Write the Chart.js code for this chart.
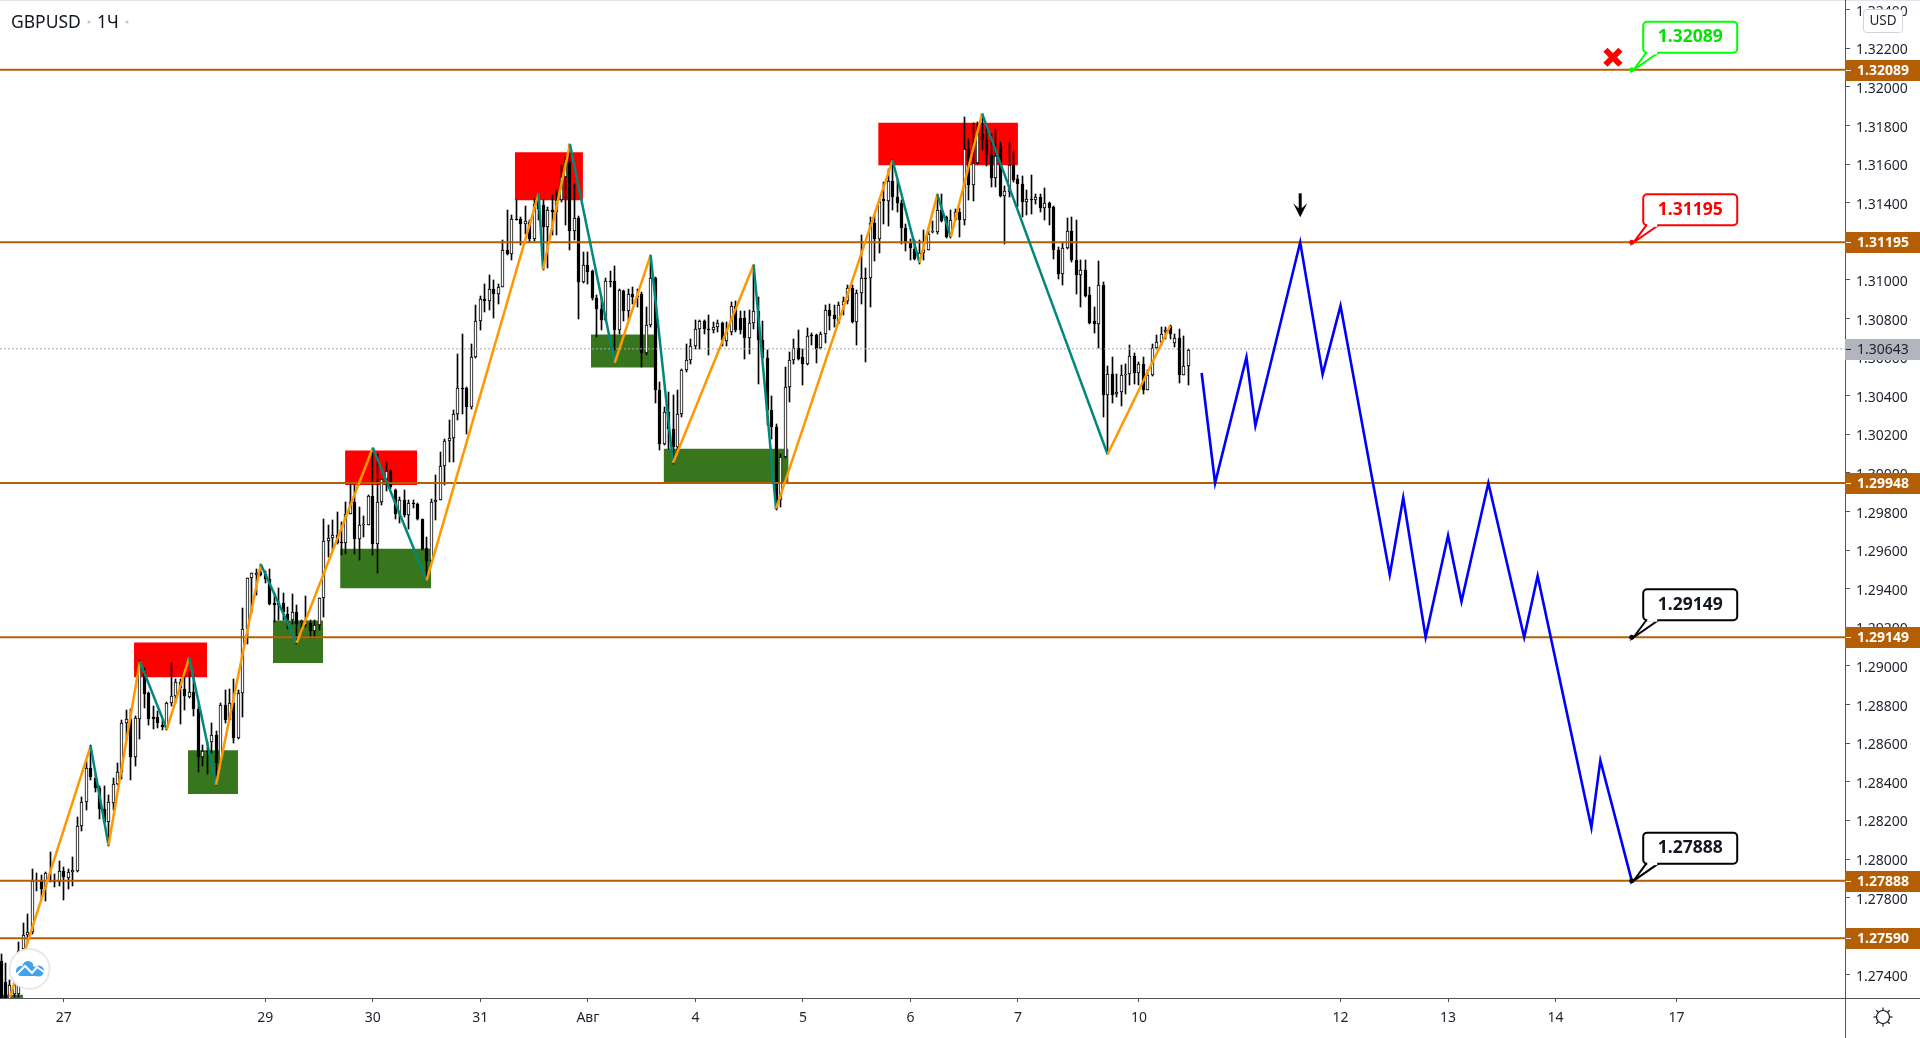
<!DOCTYPE html>
<html>
<head>
<meta charset="utf-8">
<title>GBPUSD</title>
<script src="https://cdn.jsdelivr.net/npm/chart.js@4"></script>
<style>
  html, body { margin: 0; padding: 0; background: #fff; overflow: hidden; }
  canvas { display: block; }
</style>
</head>
<body>
<canvas id="myChart" width="1920" height="1038"></canvas>
<script>
// hourly candles, oldest first
const opens = [
  1.27471,1.27365,1.27260,1.27303,1.27303,1.27533,1.27604,1.27622,1.27888,1.27892,
  1.27853,1.27892,1.27884,1.27879,1.27938,1.27902,1.27931,1.27938,1.28172,1.28296,
  1.28470,1.28420,1.28370,1.28257,1.28190,1.28292,1.28388,1.28452,1.28707,1.28727,
  1.28530,1.28727,1.28970,1.28860,1.28736,1.28736,1.28695,1.28677,1.28810,1.28842,
  1.28917,1.28881,1.28837,1.28863,1.28775,1.28530,1.28562,1.28606,1.28642,1.28500,
  1.28796,1.28722,1.28810,1.28629,1.28858,1.29192,1.29458,1.29470,1.29488,1.29476,
  1.29452,1.29325,1.29325,1.29325,1.29268,1.29236,1.29280,1.29222,1.29215,1.29222,
  1.29179,1.29215,1.29351,1.29648,1.29665,1.29680,1.29642,1.29637,1.29789,1.29850,
  1.29658,1.29732,1.29732,1.29881,1.29634,1.29850,1.29967,1.30010,1.29914,1.29789,
  1.29862,1.29784,1.29846,1.29841,1.29763,1.29613,1.29544,1.29850,1.29862,1.30036,
  1.30164,1.30183,1.30307,1.30442,1.30442,1.30342,1.30601,1.30787,1.30903,1.30891,
  1.30955,1.30929,1.30964,1.31157,1.31136,1.31316,1.31316,1.31292,1.31300,1.31214,
  1.31421,1.31390,1.31274,1.31364,1.31352,1.31413,1.31534,1.31611,1.31254,1.31323,
  1.30989,1.31079,1.31046,1.30908,1.30851,1.30791,1.30995,1.30995,1.30739,1.30943,
  1.30839,1.30929,1.30912,1.30925,1.30622,1.30765,1.31012,1.30432,1.30148,1.30316,
  1.30230,1.30135,1.30307,1.30532,1.30584,1.30658,1.30748,1.30786,1.30748,1.30739,
  1.30756,1.30779,1.30684,1.30730,1.30865,1.30805,1.30805,1.30701,1.30779,1.30837,
  1.30687,1.30597,1.30325,1.30238,1.29858,1.30083,1.30445,1.30584,1.30649,1.30601,
  1.30566,1.30713,1.30713,1.30648,1.30718,1.30846,1.30817,1.30777,1.30872,1.30891,
  1.30960,1.30782,1.30934,1.31012,1.31012,1.31295,1.31211,1.31421,1.31409,1.31511,
  1.31430,1.31399,1.31269,1.31192,1.31162,1.31110,1.31140,1.31157,1.31247,1.31247,
  1.31361,1.31326,1.31223,1.31312,1.31352,1.31309,1.31680,1.31490,1.31606,1.31758,
  1.31727,1.31646,1.31528,1.31692,1.31435,1.31456,1.31594,1.31521,1.31499,1.31404,
  1.31421,1.31416,1.31430,1.31373,1.31401,1.31378,1.31157,1.31029,1.31167,1.31252,
  1.31105,1.31024,1.31050,1.30920,1.30786,1.30774,1.30972,1.30402,1.30515,1.30411,
  1.30420,1.30509,1.30515,1.30604,1.30518,1.30566,1.30432,1.30506,1.30649,1.30679,
  1.30730,1.30760,1.30675,1.30701,1.30509,1.30553
];
const highs = [
  1.27507,1.27462,1.27374,1.27391,1.27569,1.27666,1.27714,1.27950,1.27927,1.27915,
  1.27932,1.28035,1.27923,1.27989,1.27959,1.27950,1.28012,1.28216,1.28322,1.28509,
  1.28589,1.28438,1.28376,1.28376,1.28331,1.28420,1.28495,1.28722,1.28771,1.28775,
  1.28739,1.29032,1.28988,1.28863,1.28793,1.28766,1.28722,1.28816,1.29014,1.28934,
  1.28934,1.28970,1.28970,1.28961,1.28810,1.28589,1.28606,1.28707,1.28665,1.28810,
  1.28878,1.28881,1.28934,1.28878,1.29303,1.29458,1.29484,1.29502,1.29528,1.29493,
  1.29502,1.29378,1.29404,1.29378,1.29307,1.29374,1.29316,1.29236,1.29363,1.29236,
  1.29236,1.29351,1.29764,1.29729,1.29755,1.29798,1.29746,1.29850,1.29945,1.29936,
  1.29824,1.29775,1.29884,1.30131,1.30100,1.29970,1.30057,1.30014,1.29919,1.29876,
  1.29914,1.29858,1.29858,1.29843,1.29763,1.29668,1.29867,1.29988,1.30109,1.30178,
  1.30273,1.30325,1.30618,1.30722,1.30445,1.30670,1.30869,1.30915,1.30981,1.31024,
  1.31002,1.30981,1.31205,1.31364,1.31335,1.31416,1.31326,1.31382,1.31309,1.31421,
  1.31447,1.31413,1.31378,1.31439,1.31464,1.31594,1.31637,1.31703,1.31499,1.31330,
  1.31145,1.31145,1.31050,1.30920,1.30912,1.31012,1.31046,1.31071,1.30955,1.30946,
  1.30955,1.30964,1.30955,1.30938,1.30860,1.31129,1.31016,1.30471,1.30342,1.30420,
  1.30402,1.30428,1.30541,1.30670,1.30696,1.30794,1.30794,1.30791,1.30817,1.30782,
  1.30791,1.30782,1.30782,1.30886,1.30889,1.30839,1.30839,1.30843,1.31079,1.30912,
  1.30786,1.30635,1.30397,1.30256,1.30100,1.30549,1.30627,1.30696,1.30739,1.30644,
  1.30753,1.30725,1.30722,1.30730,1.30869,1.30874,1.30869,1.30886,1.30912,1.30972,
  1.30972,1.30946,1.31231,1.31064,1.31326,1.31335,1.31421,1.31508,1.31577,1.31620,
  1.31516,1.31413,1.31292,1.31214,1.31205,1.31209,1.31257,1.31257,1.31305,1.31444,
  1.31444,1.31330,1.31361,1.31369,1.31375,1.31844,1.31732,1.31813,1.31818,1.31862,
  1.31793,1.31758,1.31784,1.31715,1.31485,1.31715,1.31663,1.31542,1.31537,1.31464,
  1.31542,1.31444,1.31447,1.31478,1.31404,1.31382,1.31171,1.31197,1.31323,1.31326,
  1.31309,1.31105,1.31102,1.30964,1.30860,1.31097,1.30989,1.30553,1.30601,1.30515,
  1.30558,1.30566,1.30661,1.30623,1.30575,1.30601,1.30532,1.30670,1.30713,1.30756,
  1.30756,1.30765,1.30722,1.30748,1.30708,1.30644
];
const lows = [
  1.27200,1.27200,1.27200,1.27285,1.27285,1.27524,1.27569,1.27613,1.27835,1.27799,
  1.27782,1.27880,1.27853,1.27861,1.27790,1.27844,1.27861,1.27932,1.28145,1.28252,
  1.28411,1.28349,1.28207,1.28185,1.28069,1.28252,1.28385,1.28417,1.28615,1.28411,
  1.28482,1.28624,1.28784,1.28695,1.28672,1.28677,1.28668,1.28668,1.28793,1.28810,
  1.28700,1.28771,1.28832,1.28739,1.28452,1.28482,1.28438,1.28548,1.28385,1.28482,
  1.28704,1.28722,1.28601,1.28624,1.28736,1.29112,1.29272,1.29369,1.29467,1.29431,
  1.29316,1.29227,1.29236,1.29236,1.29192,1.29218,1.29112,1.29174,1.29200,1.29147,
  1.29147,1.29186,1.29254,1.29565,1.29599,1.29630,1.29573,1.29582,1.29786,1.29582,
  1.29547,1.29668,1.29729,1.29573,1.29482,1.29832,1.29907,1.29919,1.29763,1.29741,
  1.29772,1.29711,1.29820,1.29755,1.29599,1.29452,1.29540,1.29755,1.29858,1.29936,
  1.30057,1.30057,1.30273,1.30307,1.30204,1.30333,1.30597,1.30743,1.30834,1.30843,
  1.30805,1.30877,1.30964,1.31128,1.31102,1.31309,1.31179,1.31240,1.31197,1.31202,
  1.31309,1.31050,1.31062,1.31231,1.31231,1.31405,1.31283,1.31154,1.31205,1.30800,
  1.30984,1.30981,1.30894,1.30705,1.30739,1.30785,1.30964,1.30635,1.30722,1.30787,
  1.30791,1.30877,1.30860,1.30549,1.30613,1.30756,1.30363,1.30117,1.30143,1.30126,
  1.30048,1.30109,1.30290,1.30523,1.30566,1.30644,1.30644,1.30718,1.30610,1.30727,
  1.30730,1.30656,1.30656,1.30713,1.30730,1.30722,1.30592,1.30618,1.30748,1.30463,
  1.30592,1.30247,1.30178,1.29810,1.29824,1.30078,1.30368,1.30566,1.30584,1.30454,
  1.30558,1.30661,1.30570,1.30644,1.30673,1.30739,1.30756,1.30774,1.30817,1.30877,
  1.30779,1.30661,1.30877,1.30575,1.30860,1.31098,1.31140,1.31292,1.31278,1.31361,
  1.31352,1.31188,1.31150,1.31105,1.31102,1.31084,1.31102,1.31154,1.31243,1.31240,
  1.31300,1.31219,1.31219,1.31309,1.31223,1.31283,1.31413,1.31409,1.31599,1.31672,
  1.31589,1.31482,1.31482,1.31430,1.31185,1.31430,1.31508,1.31378,1.31326,1.31335,
  1.31344,1.31395,1.31352,1.31309,1.31283,1.31110,1.31007,1.30972,1.31162,1.31093,
  1.30926,1.30860,1.30912,1.30770,1.30725,1.30649,1.30290,1.30100,1.30363,1.30394,
  1.30345,1.30411,1.30454,1.30463,1.30454,1.30411,1.30428,1.30501,1.30644,1.30661,
  1.30696,1.30696,1.30653,1.30466,1.30506,1.30454
];
const closes = [
  1.27250,1.27260,1.27347,1.27356,1.27524,1.27608,1.27622,1.27888,1.27892,1.27847,
  1.27927,1.27884,1.27879,1.27938,1.27906,1.27931,1.27945,1.28172,1.28296,1.28470,
  1.28424,1.28370,1.28257,1.28190,1.28296,1.28388,1.28452,1.28707,1.28727,1.28530,
  1.28730,1.29005,1.28855,1.28727,1.28727,1.28707,1.28686,1.28810,1.28842,1.28917,
  1.28885,1.28842,1.28863,1.28775,1.28530,1.28562,1.28553,1.28642,1.28500,1.28796,
  1.28722,1.28810,1.28629,1.28858,1.29192,1.29458,1.29481,1.29481,1.29470,1.29449,
  1.29321,1.29316,1.29316,1.29280,1.29236,1.29280,1.29218,1.29232,1.29232,1.29179,
  1.29215,1.29351,1.29647,1.29665,1.29680,1.29637,1.29637,1.29789,1.29850,1.29658,
  1.29732,1.29738,1.29881,1.29634,1.29850,1.29967,1.30010,1.29927,1.29789,1.29862,
  1.29784,1.29846,1.29841,1.29763,1.29608,1.29544,1.29850,1.29862,1.30036,1.30164,
  1.30183,1.30307,1.30442,1.30437,1.30342,1.30601,1.30787,1.30903,1.30891,1.30955,
  1.30929,1.30964,1.31157,1.31136,1.31318,1.31312,1.31292,1.31306,1.31214,1.31395,
  1.31369,1.31274,1.31364,1.31352,1.31413,1.31534,1.31611,1.31254,1.31323,1.30989,
  1.31079,1.31041,1.30907,1.30851,1.30791,1.30995,1.30990,1.30739,1.30946,1.30839,
  1.30929,1.30912,1.30915,1.30622,1.30765,1.31012,1.30432,1.30148,1.30316,1.30230,
  1.30135,1.30307,1.30532,1.30584,1.30658,1.30748,1.30786,1.30748,1.30743,1.30756,
  1.30779,1.30687,1.30730,1.30865,1.30739,1.30739,1.30701,1.30779,1.30837,1.30687,
  1.30597,1.30325,1.30238,1.29815,1.30083,1.30445,1.30584,1.30649,1.30592,1.30566,
  1.30708,1.30708,1.30644,1.30718,1.30846,1.30812,1.30800,1.30872,1.30891,1.30960,
  1.30782,1.30934,1.31012,1.31010,1.31295,1.31211,1.31404,1.31409,1.31511,1.31430,
  1.31399,1.31269,1.31192,1.31166,1.31110,1.31140,1.31157,1.31240,1.31252,1.31361,
  1.31305,1.31223,1.31312,1.31352,1.31309,1.31680,1.31490,1.31606,1.31758,1.31723,
  1.31646,1.31528,1.31641,1.31435,1.31459,1.31594,1.31516,1.31496,1.31404,1.31421,
  1.31418,1.31430,1.31373,1.31401,1.31375,1.31154,1.31029,1.31167,1.31252,1.31102,
  1.31024,1.31050,1.30917,1.30779,1.30774,1.30972,1.30402,1.30515,1.30402,1.30422,
  1.30509,1.30515,1.30604,1.30518,1.30566,1.30428,1.30506,1.30649,1.30679,1.30722,
  1.30739,1.30722,1.30701,1.30509,1.30553,1.30635
];

// zigzag pivots (bar number, price)
const zigBars = [2,20,24,31,37,42,48,58,66,83,95,120,121,127,137,145,150,168,173,199,205,209,212,219,247,261];
const zigPrices = [1.27285,1.28585,1.28071,1.29023,1.28672,1.29044,1.28385,1.29527,1.29119,1.30131,1.29444,1.31447,1.31055,1.31703,1.30571,1.31129,1.30052,1.31079,1.29815,1.31620,1.31090,1.31442,1.31223,1.31862,1.30097,1.30763];

// hand drawn forecast
const forecastBars = [268,271,278,280,290,295,299,310,313,318,323,326,332,340,343,355,357,364];
const forecastPrices = [1.30518,1.29948,1.30600,1.30245,1.31195,1.30511,1.30866,1.29473,1.29872,1.29149,1.29676,1.29334,1.29948,1.29149,1.29467,1.28163,1.28511,1.27888];

// supply / demand boxes
const zoneLeft = [-1,29.7,41.7,60.7,75.7,76.8,114.7,131.7,147.9,195.8];
const zoneRight = [4.9,46,52.9,71.9,96,92.9,129.9,146,175.8,227];
const zoneHigh = [1.27297,1.29122,1.28564,1.29236,1.29608,1.30117,1.31661,1.30718,1.30126,1.31815];
const zoneLow = [1.27200,1.28942,1.28337,1.29016,1.29403,1.29938,1.31413,1.30547,1.29948,1.31594];
const zoneKinds = ["demand","supply","demand","demand","demand","supply","supply","demand","demand","supply"];

// horizontal levels
const levels = [1.32089,1.31195,1.29948,1.29149,1.27888,1.27590];
const lastPrice = 1.30643;
const calloutPrices = [1.32089,1.31195,1.29149,1.27888];
const calloutColors = ["#00ff00","#ff0000","#000000","#000000"];
const calloutTextColors = ["#00e600","#ff0000","#131722","#131722"];

// axes
const priceTicks = [1.274,1.276,1.278,1.28,1.282,1.284,1.286,1.288,1.29,1.292,1.294,1.296,1.298,1.30,1.302,1.304,1.306,1.308,1.31,1.312,1.314,1.316,1.318,1.32,1.322,1.324];
const timeTickBars = [14,59,83,107,131,155,179,203,227,254,299,323,347,374];
const timeTickLabels = ["27","29","30","31","Авг","4","5","6","7","10","12","13","14","17"];

const symbolName = "GBPUSD";
const intervalName = "1Ч";
const currencyName = "USD";

const BAR_WIDTH = 4.48;
const AXIS_X = 1845;
const AXIS_Y = 998;
const BROWN = "#b45f06";
const ORANGE = "#ff9800";
const TEAL = "#00897b";
const ZONE_COLORS = { supply: "#ff0000", demand: "#38761d" };
const AXIS_COLOR = "#50535e";
const TEXT_COLOR = "#1e222d";
const FONT = '"Noto Sans", sans-serif';

const xMin = (0 - 1) / BAR_WIDTH;
const xMax = (AXIS_X - 1) / BAR_WIDTH;

function start() {
  const ctx = document.getElementById("myChart").getContext("2d");
  new Chart(ctx, {
    data: { datasets: buildDatasets() },
    options: {
      responsive: false,
      devicePixelRatio: 1,
      animation: false,
      events: [],
      layout: { padding: { top: 2, left: 0, right: 0, bottom: 0 } },
      scales: {
        x: {
          type: "linear",
          min: xMin,
          max: xMax,
          offset: false,
          afterFit: (scale) => {
            scale.height = 1038 - AXIS_Y;
            scale.paddingLeft = 0;
            scale.paddingRight = 0;
          },
          afterBuildTicks: (scale) => {
            scale.ticks = timeTickBars.map((v) => ({ value: v }));
          },
          grid: { offset: false, drawOnChartArea: false, drawTicks: true, tickLength: 4, color: AXIS_COLOR },
          border: { display: false },
          ticks: {
            autoSkip: false,
            maxRotation: 0,
            padding: 8,
            color: TEXT_COLOR,
            font: { family: FONT, size: 14 },
            callback: (value) => timeTickLabels[timeTickBars.indexOf(value)],
          },
        },
        y: {
          type: "linear",
          position: "right",
          min: 1.2728,
          max: 1.3244,
          afterFit: (scale) => {
            scale.width = 1920 - AXIS_X;
            // the top tick label must not push the plot area down
            scale.paddingTop = 0;
            scale.paddingBottom = 0;
          },
          afterBuildTicks: (scale) => {
            scale.ticks = priceTicks.map((v) => ({ value: v }));
          },
          grid: { drawOnChartArea: false, drawTicks: true, tickLength: 5, color: AXIS_COLOR },
          border: { display: false },
          ticks: {
            autoSkip: false,
            padding: 6,
            color: TEXT_COLOR,
            font: { family: FONT, size: 14 },
            callback: (value) => value.toFixed(5),
          },
        },
      },
      plugins: {
        legend: { display: false },
        title: { display: false },
        tooltip: { enabled: false },
      },
    },
    plugins: [snapCandles, nudgePriceLabels, overlay],
  });
}

function buildDatasets() {
  const datasets = [];
  // boxes sit behind everything
  zoneLeft.forEach((left, i) => {
    datasets.push({
      type: "line",
      order: 50,
      data: [{ x: left, y: zoneHigh[i] }, { x: zoneRight[i], y: zoneHigh[i] }],
      borderWidth: 0,
      pointRadius: 0,
      backgroundColor: ZONE_COLORS[zoneKinds[i]],
      fill: { value: zoneLow[i] },
    });
  });
  // wicks
  datasets.push({
    type: "bar",
    order: 40,
    grouped: false,
    barThickness: 1,
    maxBarThickness: 1,
    backgroundColor: "#000",
    borderWidth: 0,
    data: opens.map((o, i) => ({ x: i, y: [lows[i], highs[i]] })),
  });
  // bodies
  datasets.push({
    type: "bar",
    order: 30,
    grouped: false,
    barThickness: 3,
    maxBarThickness: 3,
    borderWidth: 1,
    borderSkipped: false,
    borderColor: "#000",
    backgroundColor: (c) => (closes[c.dataIndex] >= opens[c.dataIndex] ? "#fff" : "#000"),
    data: opens.map((o, i) => ({ x: i, y: [o, closes[i]] })),
  });
  // last price
  datasets.push({
    type: "line",
    order: 25,
    data: [{ x: xMin, y: lastPrice }, { x: xMax, y: lastPrice }],
    borderColor: "#a3a6af",
    borderWidth: 1,
    borderDash: [2, 2],
    pointRadius: 0,
  });
  levels.forEach((level) => {
    datasets.push({
      type: "line",
      order: 20,
      data: [{ x: xMin, y: level }, { x: xMax, y: level }],
      borderColor: BROWN,
      borderWidth: 2,
      pointRadius: 0,
    });
  });
  datasets.push({
    type: "line",
    order: 10,
    data: zigBars.map((b, i) => ({ x: b, y: zigPrices[i] })),
    borderWidth: 2.5,
    borderColor: ORANGE,
    borderJoinStyle: "round",
    pointRadius: 0,
    segment: {
      borderColor: (c) => (c.p1.parsed.y > c.p0.parsed.y ? ORANGE : TEAL),
    },
  });
  datasets.push({
    type: "line",
    order: 10,
    data: forecastBars.map((b, i) => ({ x: b, y: forecastPrices[i] })),
    borderWidth: 2.6,
    borderColor: "#0000ff",
    pointRadius: 0,
  });
  return datasets;
}

// keep candles on whole pixels so they stay crisp like the original
const snapCandles = {
  id: "snapCandles",
  afterDatasetsUpdate(chart) {
    chart.getSortedVisibleDatasetMetas().forEach((meta) => {
      if (meta.type !== "bar") return;
      meta.data.forEach((el) => {
        el.x = Math.floor(el.x) + 0.5;
        el.y = Math.round(el.y);
        el.base = Math.round(el.base);
        if (el.y === el.base) el.base = el.y + 1;
      });
    });
  },
};

// price labels sit a little below their tick in the original
const nudgePriceLabels = {
  id: "nudgePriceLabels",
  afterUpdate(chart) {
    const scale = chart.scales.y;
    scale.getLabelItems(chart.chartArea).forEach((item) => {
      item.textOffset += 2;
    });
  },
};

const overlay = {
  id: "overlay",
  afterDraw(chart) {
    const ctx = chart.ctx;
    const yScale = chart.scales.y;
    const xScale = chart.scales.x;
    ctx.save();
    // frame
    ctx.fillStyle = "#e0e3eb";
    ctx.fillRect(0, 0, 1920, 1);
    ctx.fillStyle = AXIS_COLOR;
    ctx.fillRect(AXIS_X, 0, 1, 1038);
    ctx.fillRect(0, AXIS_Y, 1920, 1);

    // axis tags
    priceTag(ctx, yScale.getPixelForValue(lastPrice), lastPrice, "#b2b5be", TEXT_COLOR, "normal");
    levels.forEach((level) => {
      priceTag(ctx, yScale.getPixelForValue(level), level, BROWN, "#ffffff", "bold");
    });

    // currency box
    ctx.fillStyle = "#ffffff";
    ctx.strokeStyle = "#d1d4dc";
    ctx.lineWidth = 1;
    ctx.beginPath();
    ctx.roundRect(1863.5, 9.5, 39, 23, 3);
    ctx.fill();
    ctx.stroke();
    ctx.fillStyle = TEXT_COLOR;
    ctx.font = "13.5px " + FONT;
    ctx.textAlign = "center";
    ctx.textBaseline = "middle";
    ctx.fillText(currencyName, 1883, 21);

    // title
    ctx.textAlign = "left";
    ctx.fillStyle = "#131722";
    ctx.font = "17.5px " + FONT;
    ctx.fillText(symbolName, 11, 23);
    ctx.fillText(intervalName, 97, 23);
    ctx.fillStyle = "#c4c6cd";
    [89, 127].forEach((x) => {
      ctx.beginPath();
      ctx.arc(x, 22, 1.6, 0, Math.PI * 2);
      ctx.fill();
    });

    // callouts with the target prices
    calloutPrices.forEach((price, i) => {
      callout(ctx, xScale.getPixelForValue(364), yScale.getPixelForValue(price), price, calloutColors[i], calloutTextColors[i]);
    });

    // red cross on the top target
    const crossX = xScale.getPixelForValue(359.8);
    const crossY = yScale.getPixelForValue(levels[0]) - 12.5;
    ctx.strokeStyle = "#ff0000";
    ctx.lineWidth = 6;
    ctx.beginPath();
    ctx.moveTo(crossX - 7.5, crossY - 7.5);
    ctx.lineTo(crossX + 7.5, crossY + 7.5);
    ctx.moveTo(crossX + 7.5, crossY - 7.5);
    ctx.lineTo(crossX - 7.5, crossY + 7.5);
    ctx.stroke();

    // arrow above the forecast peak
    const arrowX = xScale.getPixelForValue(290);
    const arrowTip = yScale.getPixelForValue(levels[1]) - 25;
    ctx.fillStyle = "#000000";
    ctx.fillRect(arrowX - 1.5, arrowTip - 24, 3, 16);
    ctx.beginPath();
    ctx.moveTo(arrowX, arrowTip);
    ctx.lineTo(arrowX - 7, arrowTip - 14);
    ctx.lineTo(arrowX - 1.5, arrowTip - 9);
    ctx.lineTo(arrowX + 1.5, arrowTip - 9);
    ctx.lineTo(arrowX + 7, arrowTip - 14);
    ctx.closePath();
    ctx.fill();

    drawLogo(ctx);
    drawGear(ctx, 1883, 1017);
    ctx.restore();
  },
};

function priceTag(ctx, y, value, background, color, weight) {
  const top = Math.round(y) - 10;
  ctx.fillStyle = background;
  ctx.fillRect(AXIS_X, top, 1920 - AXIS_X, 21);
  ctx.fillStyle = color;
  ctx.fillRect(AXIS_X + 1, top + 10, 5, 1);
  ctx.font = weight + " 14px " + FONT;
  ctx.textAlign = "left";
  ctx.textBaseline = "middle";
  ctx.fillText(value.toFixed(5), 1857, top + 11);
}

function callout(ctx, x, y, value, color, textColor) {
  const left = x + 11.5;
  const top = y - 48;
  const bottom = y - 17;
  // tail
  ctx.strokeStyle = color;
  ctx.fillStyle = "#ffffff";
  ctx.lineWidth = 2;
  ctx.beginPath();
  ctx.moveTo(left + 3, bottom);
  ctx.lineTo(x + 2, y);
  ctx.lineTo(left + 15, bottom);
  ctx.closePath();
  ctx.fill();
  ctx.stroke();
  // box
  ctx.beginPath();
  ctx.roundRect(left, top, 94, bottom - top, 4);
  ctx.fill();
  ctx.stroke();
  ctx.fillRect(left + 4, bottom - 1.5, 10, 3);
  // anchor dot
  ctx.fillStyle = color;
  ctx.beginPath();
  ctx.arc(x, y, 2.5, 0, Math.PI * 2);
  ctx.fill();
  ctx.fillStyle = textColor;
  ctx.font = "bold 17.5px " + FONT;
  ctx.textAlign = "center";
  ctx.textBaseline = "middle";
  ctx.fillText(value.toFixed(5), left + 47, top + 15.5);
}

function drawLogo(ctx) {
  ctx.fillStyle = "#ffffff";
  ctx.strokeStyle = "#e8e8e8";
  ctx.lineWidth = 2;
  ctx.beginPath();
  ctx.arc(29.5, 969, 20, 0, Math.PI * 2);
  ctx.fill();
  ctx.stroke();
  ctx.fillStyle = "#3fa2ee";
  ctx.beginPath();
  ctx.arc(21, 971, 5, 0, Math.PI * 2);
  ctx.arc(28, 966.5, 5.5, 0, Math.PI * 2);
  ctx.arc(38.5, 971, 5.5, 0, Math.PI * 2);
  ctx.fill();
  ctx.fillRect(21, 968, 18, 8);
  ctx.strokeStyle = "#ffffff";
  ctx.lineWidth = 2;
  ctx.beginPath();
  ctx.moveTo(16, 975);
  ctx.lineTo(25, 966);
  ctx.lineTo(32, 973);
  ctx.lineTo(37, 967);
  ctx.lineTo(44, 972);
  ctx.stroke();
}

function drawGear(ctx, x, y) {
  ctx.strokeStyle = "#131722";
  ctx.lineWidth = 1.2;
  ctx.beginPath();
  ctx.arc(x, y, 6.5, 0, Math.PI * 2);
  ctx.stroke();
  for (let a = 0; a < 8; a++) {
    const angle = (a * Math.PI) / 4;
    ctx.beginPath();
    ctx.moveTo(x + Math.cos(angle) * 6.5, y + Math.sin(angle) * 6.5);
    ctx.lineTo(x + Math.cos(angle) * 9.5, y + Math.sin(angle) * 9.5);
    ctx.stroke();
  }
}

start();
</script>
</body>
</html>
